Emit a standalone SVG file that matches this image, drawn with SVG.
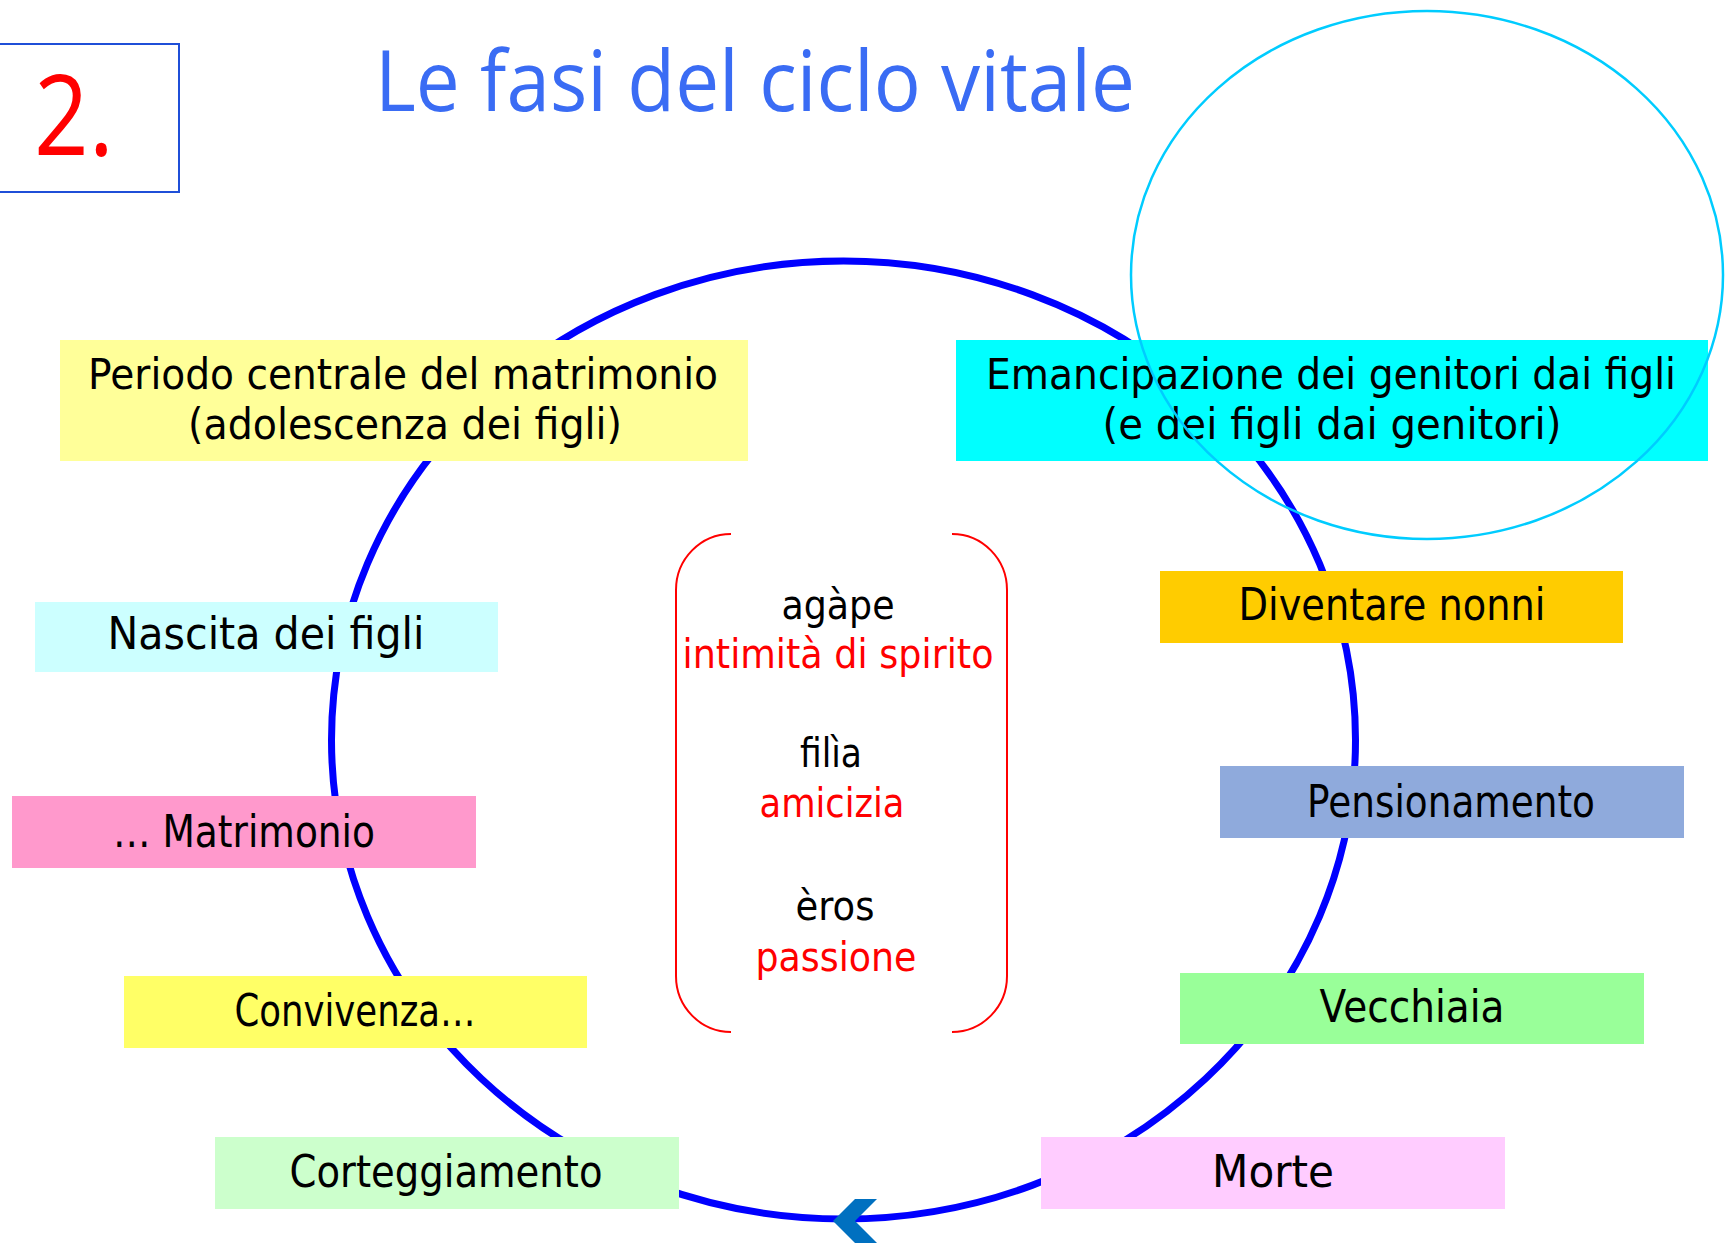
<svg xmlns="http://www.w3.org/2000/svg" width="1731" height="1243" viewBox="0 0 1731 1243">
<style>
.lbl{font-family:"DejaVu Sans",sans-serif;font-size:44px;fill:#000;text-anchor:middle}
.two{font-size:42px}
.tah{font-family:"DejaVu Sans",sans-serif;font-size:40px;text-anchor:middle}
.blk{fill:#000}
.red{fill:#FF0000}
.brk{fill:none;stroke:#FF0000;stroke-width:2}
</style>
<rect width="1731" height="1243" fill="#FFFFFF"/>

<g id="numero">
<rect x="-2" y="44" width="181" height="148" fill="none" stroke="#1F4FD8" stroke-width="2"/>
<text x="74" y="155" font-family="Open Sans, DejaVu Sans, sans-serif" font-size="112" fill="#FF0000" text-anchor="middle" textLength="80" lengthAdjust="spacingAndGlyphs">2.</text>
</g>

<g id="titolo">
<text x="755" y="111" font-family="Open Sans, DejaVu Sans, sans-serif" font-size="84" fill="#3A6CF4" text-anchor="middle" textLength="760" lengthAdjust="spacingAndGlyphs">Le fasi del ciclo vitale</text>
</g>

<g id="connectors">
<ellipse cx="843.5" cy="740" rx="512" ry="479" fill="none" stroke="#0000FF" stroke-width="7"/>
<polygon points="833,1221 855,1199 877,1199 855,1221 877,1243 855,1243" fill="#0070C0"/>
</g>

<g id="periodo-centrale">
<rect x="60" y="340" width="688" height="121" fill="#FFFF99"/>
<text class="lbl two"><tspan x="403" y="389" textLength="630" lengthAdjust="spacingAndGlyphs">Periodo centrale del matrimonio</tspan><tspan x="405" y="439" textLength="434" lengthAdjust="spacingAndGlyphs">(adolescenza dei figli)</tspan></text>
</g>

<g id="emancipazione">
<rect x="956" y="340" width="752" height="121" fill="#00FFFF"/>
<text class="lbl two"><tspan x="1331" y="389" textLength="690" lengthAdjust="spacingAndGlyphs">Emancipazione dei genitori dai figli</tspan><tspan x="1332" y="439" textLength="459" lengthAdjust="spacingAndGlyphs">(e dei figli dai genitori)</tspan></text>
</g>

<g id="nascita">
<rect x="35" y="602" width="463" height="70" fill="#CCFFFF"/>
<text class="lbl" x="266" y="649" textLength="317" lengthAdjust="spacingAndGlyphs">Nascita dei figli</text>
</g>

<g id="matrimonio">
<rect x="12" y="796" width="464" height="72" fill="#FF99CC"/>
<text class="lbl" x="244" y="847" textLength="262" lengthAdjust="spacingAndGlyphs">… Matrimonio</text>
</g>

<g id="convivenza">
<rect x="124" y="976" width="463" height="72" fill="#FFFF66"/>
<text class="lbl" x="355" y="1026" textLength="241" lengthAdjust="spacingAndGlyphs">Convivenza…</text>
</g>

<g id="corteggiamento">
<rect x="215" y="1137" width="464" height="72" fill="#CCFFCC"/>
<text class="lbl" x="446" y="1187" textLength="313" lengthAdjust="spacingAndGlyphs">Corteggiamento</text>
</g>

<g id="nonni">
<rect x="1160" y="571" width="463" height="72" fill="#FFCC00"/>
<text class="lbl" x="1392" y="620" textLength="307" lengthAdjust="spacingAndGlyphs">Diventare nonni</text>
</g>

<g id="pensionamento">
<rect x="1220" y="766" width="464" height="72" fill="#8FAADC"/>
<text class="lbl" x="1451" y="817" textLength="288" lengthAdjust="spacingAndGlyphs">Pensionamento</text>
</g>

<g id="vecchiaia">
<rect x="1180" y="973" width="464" height="71" fill="#99FF99"/>
<text class="lbl" x="1412" y="1022" textLength="185" lengthAdjust="spacingAndGlyphs">Vecchiaia</text>
</g>

<g id="morte">
<rect x="1041" y="1137" width="464" height="72" fill="#FFCCFF"/>
<text class="lbl" x="1273" y="1187" textLength="122" lengthAdjust="spacingAndGlyphs">Morte</text>
</g>

<g id="amore">
<path class="brk" d="M731,534 A55 56 0 0 0 676,590 L676,976 A55 56 0 0 0 731,1032"/>
<path class="brk" d="M952,534 A55 56 0 0 1 1007,590 L1007,976 A55 56 0 0 1 952,1032"/>
<text class="tah blk" x="838" y="619" textLength="113" lengthAdjust="spacingAndGlyphs">agàpe</text>
<text class="tah red" x="838" y="668" textLength="311" lengthAdjust="spacingAndGlyphs">intimità di spirito</text>
<text class="tah blk" x="831" y="767" textLength="62" lengthAdjust="spacingAndGlyphs">filìa</text>
<text class="tah red" x="832" y="817" textLength="145" lengthAdjust="spacingAndGlyphs">amicizia</text>
<text class="tah blk" x="835" y="920" textLength="79" lengthAdjust="spacingAndGlyphs">èros</text>
<text class="tah red" x="836" y="971" textLength="161" lengthAdjust="spacingAndGlyphs">passione</text>
</g>

<g id="cerchio-evidenziato">
<ellipse cx="1427" cy="275" rx="296" ry="264" fill="none" stroke="#00CCFF" stroke-width="2.5"/>
</g>
</svg>
